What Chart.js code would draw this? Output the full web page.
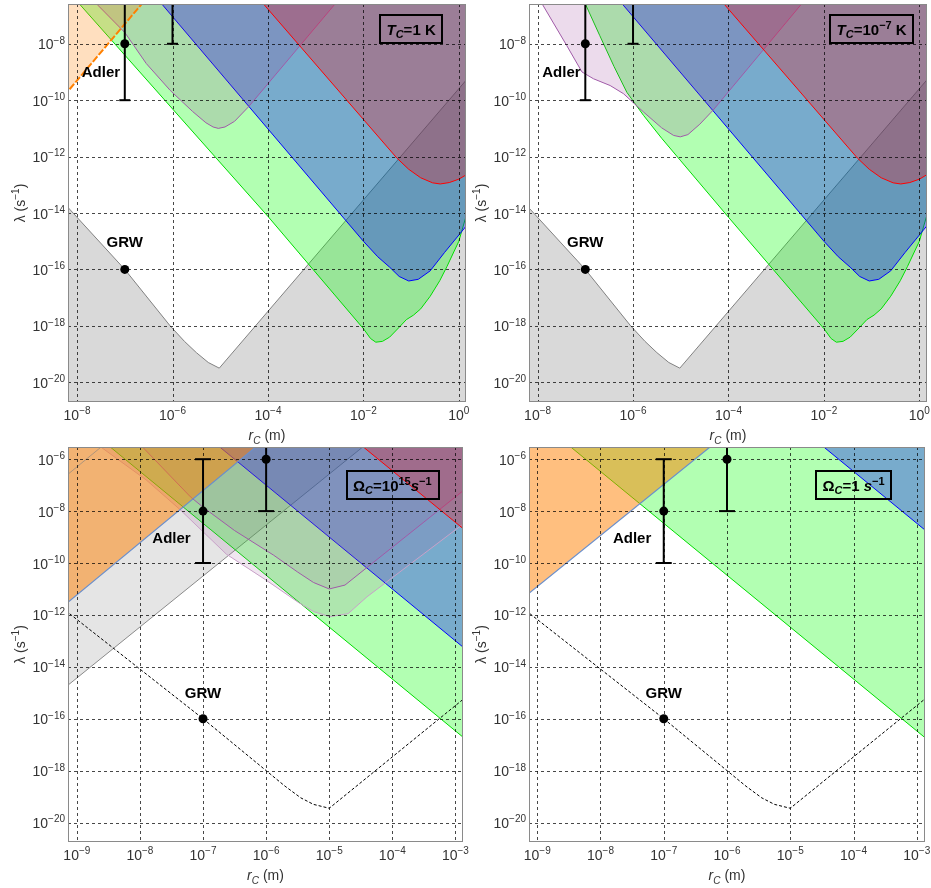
<!DOCTYPE html>
<html>
<head>
<meta charset="utf-8">
<script src="https://cdn.jsdelivr.net/npm/chart.js@4.4.0/dist/chart.umd.min.js"></script>
<style>
  body { margin: 0; background: #fff; width: 931px; height: 888px; position: relative; overflow: hidden; }
  canvas { position: absolute; }
</style>
</head>
<body>
<canvas id="c1" width="470" height="444" style="left:0;top:0"></canvas>
<canvas id="c2" width="466" height="444" style="left:465px;top:0"></canvas>
<canvas id="c3" width="470" height="444" style="left:0;top:444px"></canvas>
<canvas id="c4" width="466" height="444" style="left:465px;top:444px"></canvas>
<script>
// all values are log10 exponents: x = log10(r_C / m), y = log10(lambda / s^-1)
const xTicksT = [-8, -6, -4, -2, 0];
const yTicksT = [-8, -10, -12, -14, -16, -18, -20];
const xTicksW = [-9, -8, -7, -6, -5, -4, -3];
const yTicksW = [-6, -8, -10, -12, -14, -16, -18, -20];

// temperature panels (T_C = 1 K and 1e-7 K)
const grayT = [[-8.3, -13.6], [-7, -16], [-6.05, -18], [-5.75, -18.55], [-5.5, -18.95], [-5.25, -19.3], [-5.02, -19.5], [0.3, -9.0]];
const greenTail = [[-2.0, -18.1], [-1.85, -18.45], [-1.74, -18.58], [-1.6, -18.55], [-1.45, -18.4], [-1.25, -18.05], [-1.1, -17.78],
  [-0.95, -17.62], [-0.8, -17.4], [-0.6, -16.95], [-0.4, -16.4], [-0.25, -15.9], [0, -15.0], [0.15, -14.12], [0.25, -13.5]];
const greenT1 = [[-8.05, -6.4], [-4, -14.12]].concat(greenTail);
const greenT2 = [[-7.05, -6.4], [-6.7, -7.7], [-6.4, -8.8], [-6.13, -9.72], [-5.78, -10.54], [-5.4, -11.35], [-5.0, -12.15], [-4, -14.15]].concat(greenTail);
const blueT = [[-6.32, -6.4], [-2, -15.0], [-1.7, -15.55], [-1.45, -15.92], [-1.25, -16.25], [-1.05, -16.41], [-0.85, -16.35],
  [-0.6, -16.05], [-0.3, -15.4], [0.15, -14.47], [0.3, -14.15]];
const redT = [[-4.19, -6.4], [-1.3, -12.05], [-1.05, -12.45], [-0.8, -12.75], [-0.55, -12.93], [-0.39, -12.97], [-0.2, -12.92],
  [0, -12.8], [0.15, -12.65], [0.3, -12.45]];
const purpleT1 = [[-7.7, -6.4], [-7.0, -7.6], [-6.55, -8.7], [-6.05, -9.65], [-5.58, -10.4], [-5.3, -10.8], [-5.15, -10.95],
  [-5.04, -11.0], [-4.9, -10.95], [-4.7, -10.75], [-4.41, -10.24], [-2.5, -6.4]];
const purpleT2 = [[-8.0, -6.4], [-7.9, -6.6], [-7.39, -8.06], [-7.07, -9.0], [-6.83, -9.24], [-6.48, -9.48], [-6.2, -9.77],
  [-5.78, -10.42], [-5.4, -10.98], [-5.15, -11.25], [-5.01, -11.3], [-4.85, -11.22], [-4.6, -10.85], [-4.32, -10.35], [-2.45, -6.55]];
const orangeT1 = [[-8.4, -10.1], [-6.5, -6.3]];

// frequency panels (Omega_C = 1e15 s^-1 and 1 s^-1)
const grwW = [[-9.3, -11.6], [-7, -16], [-6, -18], [-5.7, -18.6], [-5.45, -19.05], [-5.25, -19.3], [-5.0, -19.45], [-2.7, -14.9]];
const steelW3 = [[-9.3, -11.83], [-6.0, -5.2]];
const steelW4 = [[-9.3, -11.5], [-6.1, -5.2]];
const grayW3 = [[-9.3, -15.02], [-4.2, -5.0]];
const grayTopW3 = [[-9.3, -6.9], [-8.4, -5.1]];
const greenW = [[-8.6, -5.27], [-2.7, -17.07]];
const blueW3 = [[-6.85, -5.3], [-2.7, -13.6]];
const blueW4 = [[-4.6, -5.27], [-2.7, -9.07]];
const redW3 = [[-4.6, -5.25], [-2.7, -9.03]];
const purpleW3a = [[-8.75, -5.3], [-7.9, -6.8], [-7.37, -7.93], [-6.63, -9.66], [-6.0, -10.66], [-5.5, -11.5], [-5.25, -11.87],
  [-4.99, -12.07], [-4.7, -11.95], [-4.4, -11.3], [-2.7, -8.17]];
const purpleW3b = [[-8.05, -5.3], [-7.2, -7.45], [-7.0, -7.85], [-6.5, -8.75], [-5.88, -9.7], [-5.5, -10.35], [-5.25, -10.75],
  [-5.0, -11.0], [-4.75, -10.85], [-4.4, -10.17], [-2.7, -6.87]];

// experimental points
const adlerBar = [[-7, -10], [-7, -6]];
const adlerPt = [[-7, -8]];
const secondBar = [[-6, -8], [-6, -4]];
const secondPt = [[-6, -6]];
const grwPt = [[-7, -16]];

const FONT = '"Liberation Sans", Arial, sans-serif';

function pts(a) { return a.map(p => ({ x: p[0], y: p[1] })); }

function curve(data, line, fillColor, fill, extra) {
  return Object.assign({
    data: pts(data), showLine: true, borderColor: line, borderWidth: 1, pointRadius: 0,
    backgroundColor: fillColor || 'transparent', fill: fill || false
  }, extra || {});
}

function bar(data, capR) {
  return { data: pts(data), showLine: true, borderColor: '#000', borderWidth: 2, pointStyle: 'line',
    pointRadius: capR, pointBorderWidth: 2, pointBorderColor: '#000', fill: false };
}

function dot(data) {
  return { data: pts(data), showLine: false, pointRadius: 4.5, pointBackgroundColor: '#000', pointBorderColor: '#000', pointBorderWidth: 0 };
}

// rich text: parts are [text, flags]; flags: b bold, i italic, ^ sup, _ sub
function richLayout(ctx, parts, size) {
  let w = 0;
  const items = parts.map(([t, f = '']) => {
    const small = f.includes('^') || f.includes('_');
    const sz = small ? Math.round(size * 0.72) : size;
    const font = (f.includes('i') ? 'italic ' : '') + (f.includes('b') ? 'bold ' : '') + sz + 'px ' + FONT;
    ctx.font = font;
    const tw = ctx.measureText(t).width;
    const dy = f.includes('^') ? -size * 0.4 : f.includes('_') ? size * 0.25 : 0;
    const it = { t, font, dy, x: w };
    w += tw;
    return it;
  });
  return { items, w };
}

function drawRich(ctx, parts, x, y, size, align) {
  const L = richLayout(ctx, parts, size);
  const x0 = align === 'center' ? x - L.w / 2 : align === 'right' ? x - L.w : x;
  ctx.textBaseline = 'alphabetic';
  ctx.textAlign = 'left';
  L.items.forEach(it => { ctx.font = it.font; ctx.fillText(it.t, x0 + it.x, y + it.dy); });
  return L.w;
}

function expParts(v) {
  return [['10'], [(v < 0 ? '\u2212' : '') + Math.abs(v), '^']];
}

const panels = {};

function drawGrid(chart) {
  const { ctx, chartArea: a, scales: { x, y } } = chart;
  ctx.save();
  ctx.strokeStyle = 'rgba(0,0,0,0.72)';
  ctx.lineWidth = 1;
  ctx.setLineDash([3, 3]);
  ctx.beginPath();
  x.ticks.forEach(t => {
    const px = Math.round(x.getPixelForValue(t.value)) + 0.5;
    ctx.moveTo(px, a.top); ctx.lineTo(px, a.bottom);
  });
  y.ticks.forEach(t => {
    const py = Math.round(y.getPixelForValue(t.value)) + 0.5;
    ctx.moveTo(a.left, py); ctx.lineTo(a.right, py);
  });
  ctx.stroke();
  ctx.restore();
}

const decor = {
  id: 'decor',
  afterDatasetDraw(chart, args) {
    if (chart.data.datasets[args.index].gridAfter) drawGrid(chart);
  },
  afterDraw(chart) {
    const cfg = panels[chart.canvas.id];
    const { ctx, chartArea: a, scales: { x, y } } = chart;
    ctx.save();
    // frame
    ctx.strokeStyle = '#8a8a8a';
    ctx.lineWidth = 1;
    ctx.strokeRect(Math.round(a.left) + 0.5, Math.round(a.top) + 0.5, Math.round(a.right - a.left) - 1, Math.round(a.bottom - a.top) - 1);
    // tick labels
    ctx.fillStyle = '#333';
    x.ticks.forEach(t => drawRich(ctx, expParts(t.value), x.getPixelForValue(t.value), a.bottom + 18, 14, 'center'));
    y.ticks.forEach(t => drawRich(ctx, expParts(t.value), a.left - 3, y.getPixelForValue(t.value) + 5.5, 14, 'right'));
    // axis titles
    drawRich(ctx, [['r', 'i'], ['C', 'i_'], [' (m)']], (a.left + a.right) / 2, a.bottom + 38, 14, 'center');
    ctx.save();
    ctx.translate(a.left - 43, (a.top + a.bottom) / 2);
    ctx.rotate(-Math.PI / 2);
    drawRich(ctx, [['\u03bb (s'], ['\u22121', '^'], [')']], 0, 0, 14, 'center');
    ctx.restore();
    // point labels
    ctx.fillStyle = '#000';
    cfg.labels.forEach(l => drawRich(ctx, [[l.t, 'b']], x.getPixelForValue(l.x), y.getPixelForValue(l.y) + 5.5, 15, 'center'));
    // legend box
    const cx = x.getPixelForValue(cfg.legendAt[0]);
    const cy = y.getPixelForValue(cfg.legendAt[1]);
    const w = richLayout(ctx, cfg.legend, 15).w + 13;
    ctx.strokeStyle = '#000';
    ctx.lineWidth = 2;
    ctx.strokeRect(Math.round(cx - w / 2), Math.round(cy - 14), Math.round(w), 28);
    drawRich(ctx, cfg.legend, cx, cy + 5.5, 15, 'center');
    ctx.restore();
  }
};

function makeChart(id, cfg) {
  panels[id] = cfg;
  const n = cfg.datasets.length;
  cfg.datasets.forEach((d, i) => { d.order = n - i; });
  return new Chart(document.getElementById(id), {
    type: 'scatter',
    data: { datasets: cfg.datasets },
    options: {
      responsive: false,
      animation: false,
      devicePixelRatio: 1,
      events: [],
      layout: { padding: cfg.pad, autoPadding: false },
      elements: { line: { tension: 0 } },
      plugins: { legend: { display: false }, tooltip: { enabled: false } },
      scales: {
        x: {
          type: 'linear', min: cfg.xr[0], max: cfg.xr[1],
          grid: { display: false }, border: { display: false }, ticks: { display: false },
          afterBuildTicks: s => { s.ticks = cfg.xTicks.map(v => ({ value: v })); },
          afterFit: s => { s.height = cfg.xH; }
        },
        y: {
          type: 'linear', min: cfg.yr[0], max: cfg.yr[1],
          grid: { display: false }, border: { display: false }, ticks: { display: false },
          afterBuildTicks: s => { s.ticks = cfg.yTicks.map(v => ({ value: v })); },
          afterFit: s => { s.width = cfg.yW; }
        }
      }
    },
    plugins: [decor]
  });
}

const fGray = 'rgba(0,0,0,0.15)', fGrayLight = 'rgba(0,0,0,0.1)';
const fGreen = 'rgba(0,255,0,0.3)', lGreen = '#00dd00';
const fBlue = 'rgba(0,0,255,0.33)', lBlue = '#0000ff';
const fRed = 'rgba(255,0,0,0.26)', lRed = '#ff0000';
const fPurple = 'rgba(140,40,140,0.17)', lPurple = '#a05aa8', lPurpleLight = '#c8a0c8';
const fPurpleW = 'rgba(150,80,150,0.14)';
const fOrangeT = 'rgba(255,128,0,0.25)', fOrangeW = 'rgba(255,128,0,0.5)', lOrange = '#ff8000', lSteel = '#6a8fcc';

const labels = [{ t: 'Adler', x: -7.5, y: -9 }, { t: 'GRW', x: -7, y: -15 }];

makeChart('c1', {
  pad: { left: 0, top: 4, right: 4, bottom: 0 }, xH: 42, yW: 68,
  xr: [-8.19, 0.15], yr: [-20.7, -6.59], xTicks: xTicksT, yTicks: yTicksT,
  labels, legendAt: [-1.0, -7.48],
  legend: [['T', 'bi'], ['C', 'bi_'], ['=1 K', 'b']],
  datasets: [
    curve(grayT, '#808080', fGray, 'start'),
    curve(greenT1, lGreen, fGreen, 'end'),
    curve(blueT, lBlue, fBlue, 'end'),
    curve(purpleT1, lPurple, fPurple, 'end'),
    curve(redT, lRed, fRed, 'end'),
    curve(orangeT1, lOrange, fOrangeT, 'end', { borderWidth: 2, borderDash: [7, 2], gridAfter: true }),
    bar(adlerBar, 5.5), bar(secondBar, 5.5), dot(adlerPt), dot(grwPt)
  ]
});

makeChart('c2', {
  pad: { left: 0, top: 4, right: 4, bottom: 0 }, xH: 42, yW: 64,
  xr: [-8.18, 0.16], yr: [-20.7, -6.59], xTicks: xTicksT, yTicks: yTicksT,
  labels, legendAt: [-1.0, -7.48],
  legend: [['T', 'bi'], ['C', 'bi_'], ['=10', 'b'], ['\u22127', 'b^'], [' K', 'b']],
  datasets: [
    curve(grayT, '#808080', fGray, 'start'),
    curve(greenT2, lGreen, fGreen, 'end'),
    curve(blueT, lBlue, fBlue, 'end'),
    curve(purpleT2, lPurple, fPurple, 'end'),
    curve(redT, lRed, fRed, 'end', { gridAfter: true }),
    bar(adlerBar, 5.5), bar(secondBar, 5.5), dot(adlerPt), dot(grwPt)
  ]
});

makeChart('c3', {
  pad: { left: 0, top: 3, right: 7, bottom: 0 }, xH: 46, yW: 68,
  xr: [-9.14, -2.88], yr: [-20.75, -5.53], xTicks: xTicksW, yTicks: yTicksW,
  labels, legendAt: [-4.0, -7.0],
  legend: [['\u03a9', 'b'], ['C', 'bi_'], ['=10', 'b'], ['15', 'b^'], ['s', 'bi'], ['\u22121', 'b^']],
  datasets: [
    curve(grayW3, '#8a8a8a', fGrayLight, 'end'),
    curve(greenW, lGreen, fGreen, 'end'),
    curve(blueW3, lBlue, fBlue, 'end'),
    curve(purpleW3a, lPurpleLight, fPurpleW, 'end'),
    curve(purpleW3b, lPurple, fPurpleW, 'end'),
    curve(redW3, lRed, fRed, 'end'),
    curve(steelW3, lSteel, fOrangeW, 'end', { borderWidth: 1.2 }),
    curve(grayTopW3, 'rgba(128,128,128,0.6)'),
    curve(grwW, '#000', null, false, { borderDash: [3, 2], gridAfter: true }),
    bar(adlerBar, 8), bar(secondBar, 8), dot(adlerPt), dot(secondPt), dot(grwPt)
  ]
});

makeChart('c4', {
  pad: { left: 0, top: 3, right: 6, bottom: 0 }, xH: 46, yW: 64,
  xr: [-9.13, -2.87], yr: [-20.75, -5.53], xTicks: xTicksW, yTicks: yTicksW,
  labels, legendAt: [-4.0, -7.0],
  legend: [['\u03a9', 'b'], ['C', 'bi_'], ['=1 ', 'b'], ['s', 'bi'], ['\u22121', 'b^']],
  datasets: [
    curve(greenW, lGreen, fGreen, 'end'),
    curve(blueW4, lBlue, fBlue, 'end'),
    curve(steelW4, lSteel, fOrangeW, 'end', { borderWidth: 1.2 }),
    curve(grwW, '#000', null, false, { borderDash: [3, 2], gridAfter: true }),
    bar(adlerBar, 8), bar(secondBar, 8), dot(adlerPt), dot(secondPt), dot(grwPt)
  ]
});
</script>
</body>
</html>
